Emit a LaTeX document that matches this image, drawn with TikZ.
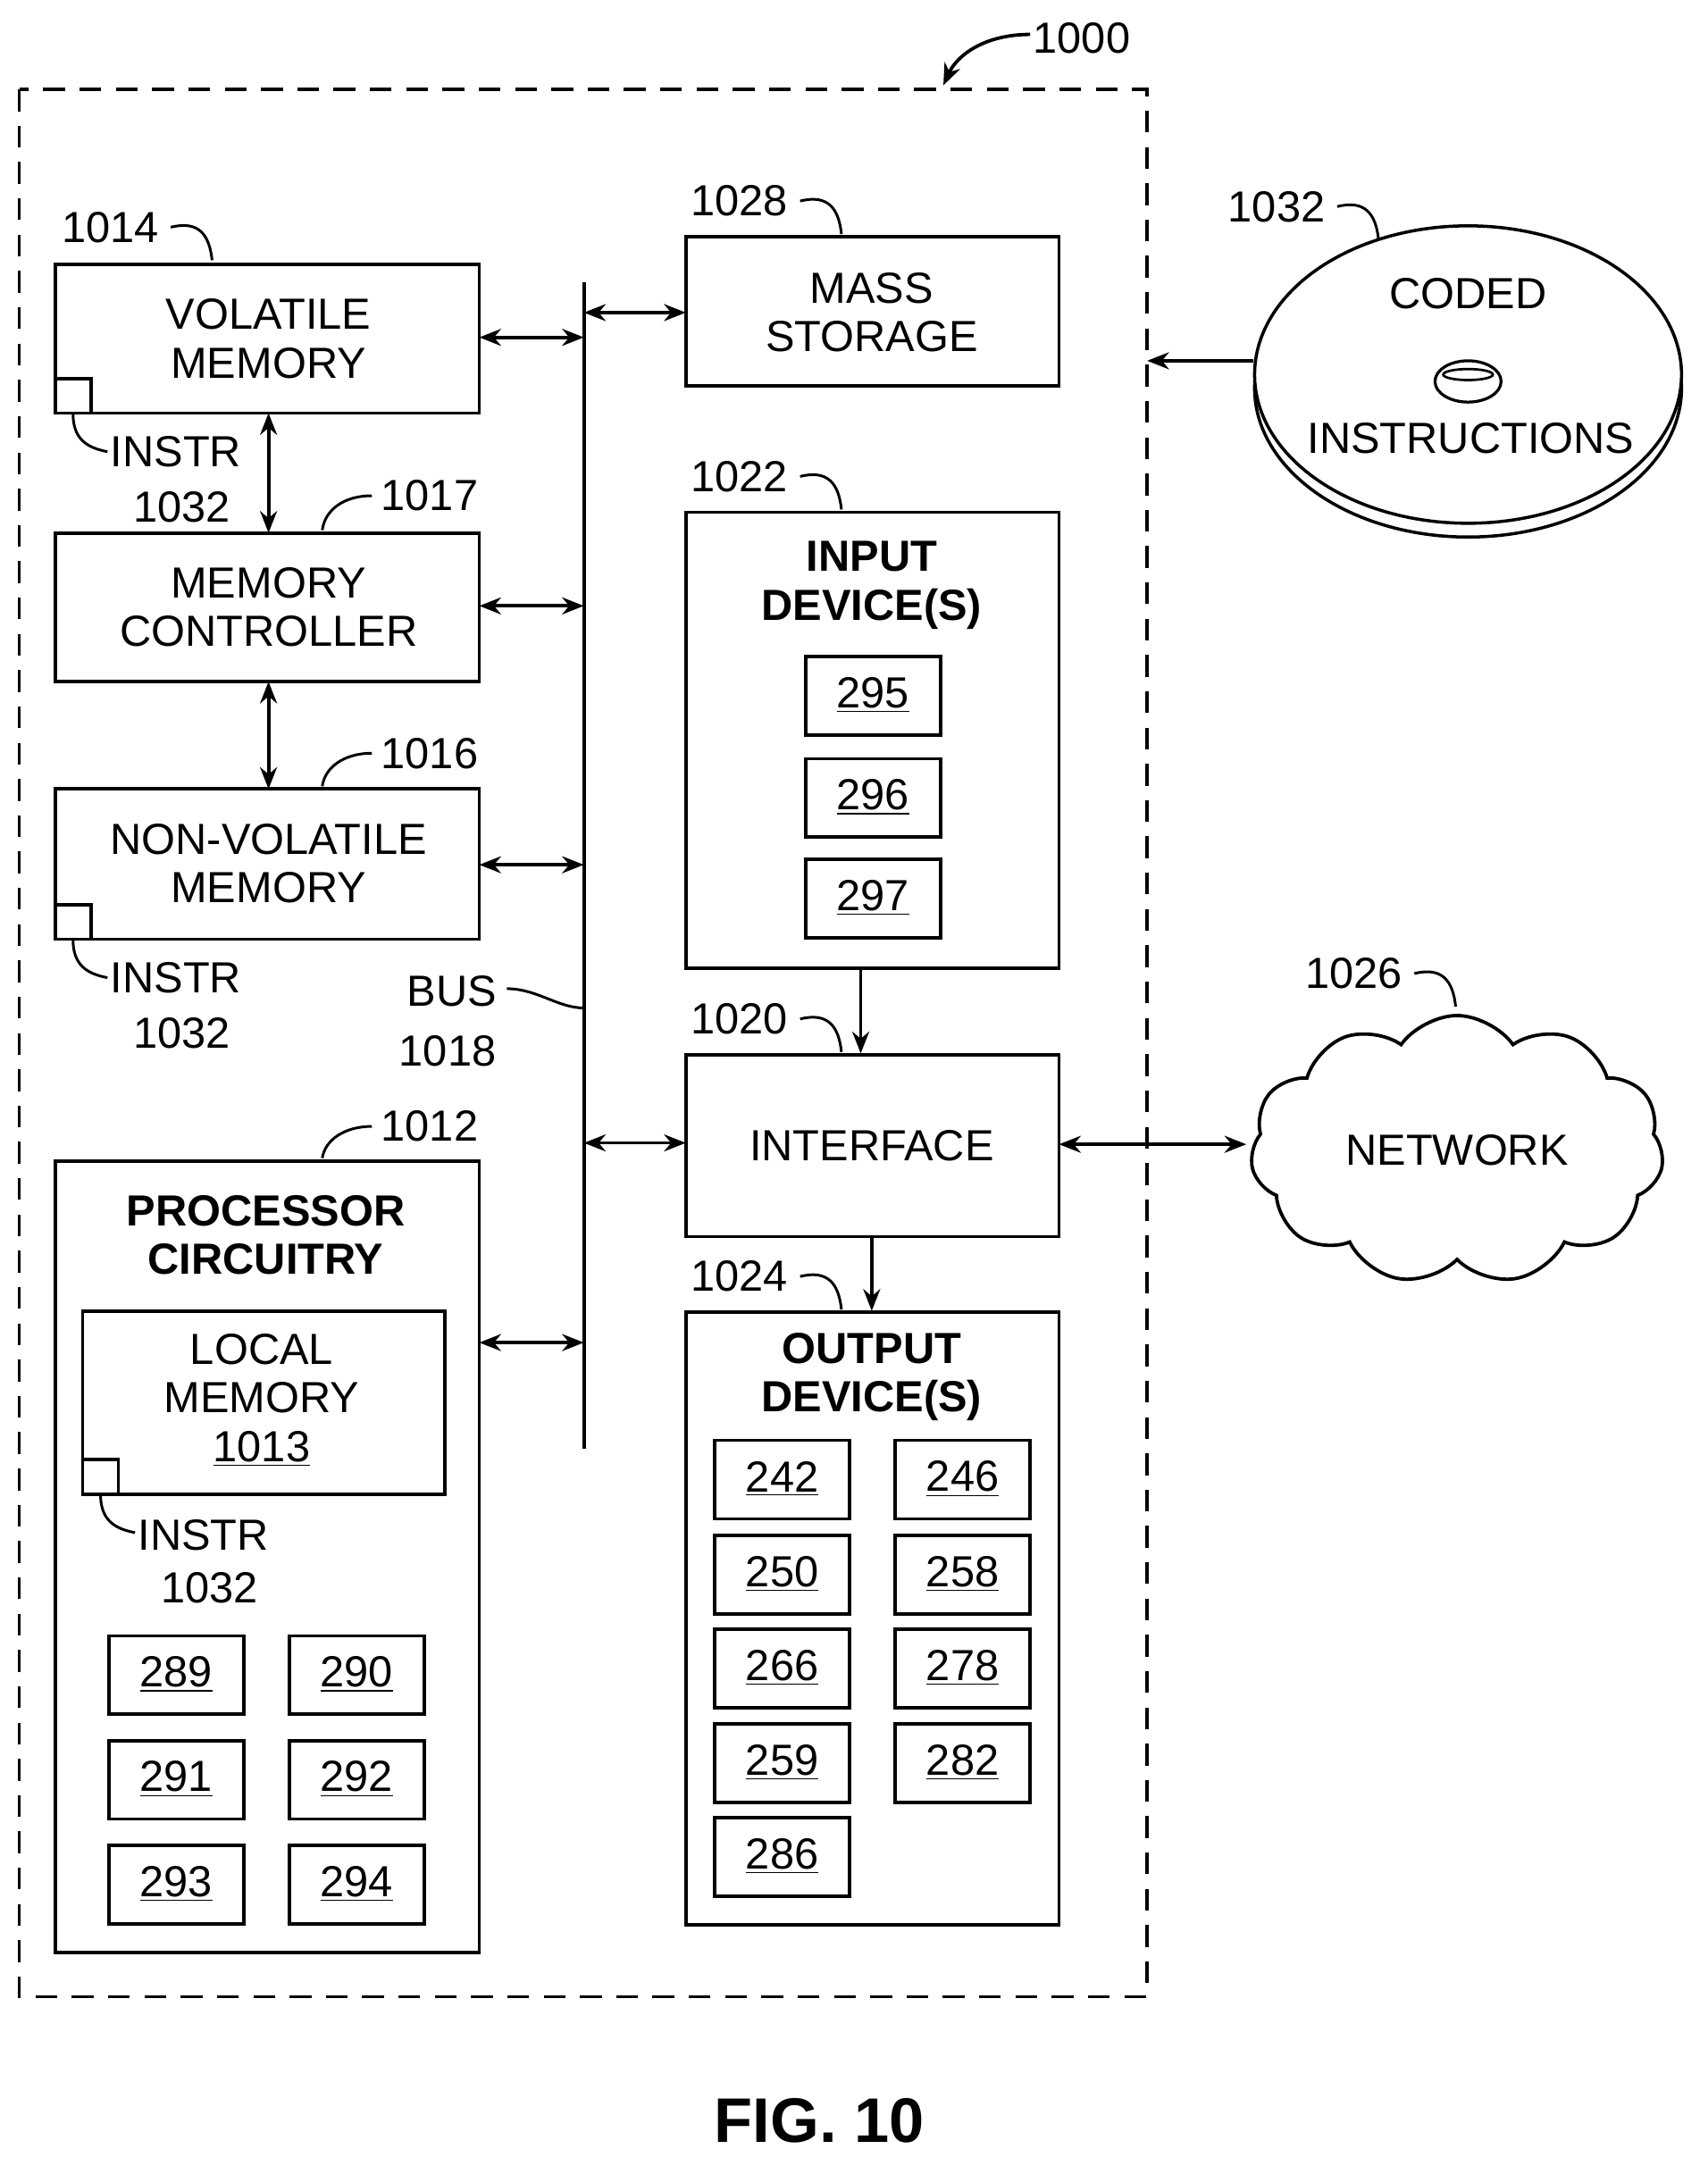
\documentclass[tikz,border=0pt]{standalone}
\usepackage{fontspec}
\setmainfont{Liberation Sans}
\usetikzlibrary{shapes.symbols,arrows.meta}
\begin{document}
\begin{tikzpicture}[x=0.02cm,y=-0.02cm,
 bx/.style={draw,line width=1.4pt},
 t/.style={font=\fontsize{18}{20}\selectfont,align=center,inner sep=0},
 tb/.style={font=\fontsize{18}{20}\selectfont\bfseries,align=center,inner sep=0},
 ar/.style={line width=1.4pt,-{Stealth[length=9pt,width=7pt]}},
 dar/.style={line width=1.4pt,{Stealth[length=9pt,width=7pt]}-{Stealth[length=9pt,width=7pt]}},
 hk/.style={line width=1.1pt}]
\useasboundingbox (0,0) rectangle (1240,1573);
\newcommand\hook[2]{\draw[hk] (#1,#2) .. controls (#1+20,#2-5) and (#1+28,#2+5) .. (#1+30,#2+24);}
\newcommand\ubox[3]{\draw[bx] (#1,#2) rectangle ++(98,57); \node[t] at (#1+49,#2+28) {\underline{#3}};}
% outer
\draw[line width=1.4pt,dash pattern=on 9pt off 6pt] (14,65) rectangle (833,1450);
\node[t,anchor=west] (l1000) at (750,28) {1000};
\draw[ar] (748,25) .. controls (715,25) and (695,40) .. (685,62);
% volatile
\draw[bx] (40,192) rectangle (348,300); \node[t] (vm) at (195,246) {VOLATILE\\MEMORY};
\draw[bx] (40,275) rectangle (66,300);
\draw[hk] (53,300) .. controls (53,318) and (62,325) .. (78,328);
\node[t,anchor=west] at (80,328) {INSTR}; \node[t] at (132,368) {1032};
\node[t] at (80,165) {1014}; \hook{124}{165}
% controller
\draw[bx] (40,387) rectangle (348,495); \node[t] (mc) at (195,441) {MEMORY\\CONTROLLER};
\node[t] at (312,360) {1017};
\draw[hk] (270,360) .. controls (250,360) and (236,370) .. (234,385);
% nonvolatile
\draw[bx] (40,573) rectangle (348,682); \node[t] at (195,627) {NON-VOLATILE\\MEMORY};
\draw[bx] (40,657) rectangle (66,682);
\draw[hk] (53,682) .. controls (53,700) and (62,707) .. (78,710);
\node[t,anchor=west] at (80,710) {INSTR}; \node[t] at (132,750) {1032};
\node[t] at (312,547) {1016};
\draw[hk] (270,547) .. controls (250,547) and (236,557) .. (234,571);
\draw[dar] (195,300) -- (195,387);
\draw[dar] (195,495) -- (195,573);
% bus
\draw[line width=1.4pt] (424,205) -- (424,1052);
\draw[dar] (348,245) -- (424,245);
\draw[dar] (348,440) -- (424,440);
\draw[dar] (348,628) -- (424,628);
\draw[dar] (348,975) -- (424,975);
\draw[dar] (424,227) -- (498,227);
\draw[dar] (424,830) -- (498,830);
\node[t] at (328,720) {BUS}; \node[t] at (325,763) {1018};
\draw[hk] (368,718) .. controls (390,718) and (405,732) .. (424,732);
% processor
\draw[bx] (40,843) rectangle (348,1418);
\node[tb] at (193,897) {PROCESSOR\\CIRCUITRY};
\node[t] at (312,818) {1012};
\draw[hk] (270,818) .. controls (250,818) and (236,828) .. (234,841);
\draw[bx] (60,952) rectangle (323,1085);
\node[t] at (190,1017) {LOCAL\\MEMORY\\\underline{1013}};
\draw[bx] (60,1060) rectangle (86,1085);
\draw[hk] (73,1085) .. controls (73,1103) and (82,1110) .. (98,1113);
\node[t,anchor=west] at (100,1115) {INSTR}; \node[t] at (152,1153) {1032};
\ubox{79}{1188}{289} \ubox{210}{1188}{290}
\ubox{79}{1264}{291} \ubox{210}{1264}{292}
\ubox{79}{1340}{293} \ubox{210}{1340}{294}
% mass storage
\draw[bx] (498,172) rectangle (769,280); \node[t] at (633,227) {MASS\\STORAGE};
\node[t] at (537,146) {1028}; \hook{581}{146}
% input
\draw[bx] (498,372) rectangle (769,703);
\node[tb] at (633,425) {INPUT\\DEVICE(S)};
\node[t] at (537,346) {1022}; \hook{581}{346}
\ubox{585}{477}{295} \ubox{585}{551}{296} \ubox{585}{624}{297}
\draw[ar] (625,703) -- (625,765);
% interface
\draw[bx] (498,766) rectangle (769,898); \node[t] at (633,832) {INTERFACE};
\node[t] at (537,740) {1020}; \hook{581}{740}
\draw[ar] (633,898) -- (633,952);
% output
\draw[bx] (498,953) rectangle (769,1398);
\node[tb] at (633,1000) {OUTPUT\\DEVICE(S)};
\node[t] at (537,927) {1024}; \hook{581}{927}
\ubox{519}{1046}{242} \ubox{650}{1046}{246}
\ubox{519}{1115}{250} \ubox{650}{1115}{258}
\ubox{519}{1183}{266} \ubox{650}{1183}{278}
\ubox{519}{1252}{259} \ubox{650}{1252}{282}
\ubox{519}{1320}{286}
% disc
\draw[line width=1.3pt,fill=white] (1066,282) ellipse [x radius=155,y radius=108];
\draw[line width=1.3pt,fill=white] (1066,272) ellipse [x radius=155,y radius=108];
\draw[line width=1.2pt] (1066,277) ellipse [x radius=24,y radius=15];
\draw[line width=1pt] (1066,272) ellipse [x radius=18,y radius=4];
\node[t] at (1066,213) {CODED}; \node[t] at (1068,318) {INSTRUCTIONS};
\node[t] at (927,150) {1032}; \hook{971}{150}
\draw[ar] (910,262) -- (833,262);
% network
\node[cloud,draw,line width=1.4pt,cloud puffs=11,cloud puff arc=110,aspect=1.55,minimum width=300*0.02cm,minimum height=195*0.02cm,inner sep=0] (net) at (1058,835) {};
\node[t] at (1058,835) {NETWORK};
\node[t] at (983,707) {1026}; \hook{1027}{707}
\draw[dar] (769,831) -- (905,831);
\node[font=\fontsize{26}{28}\selectfont\bfseries] at (595,1540) {FIG. 10};
\end{tikzpicture}
\end{document}
